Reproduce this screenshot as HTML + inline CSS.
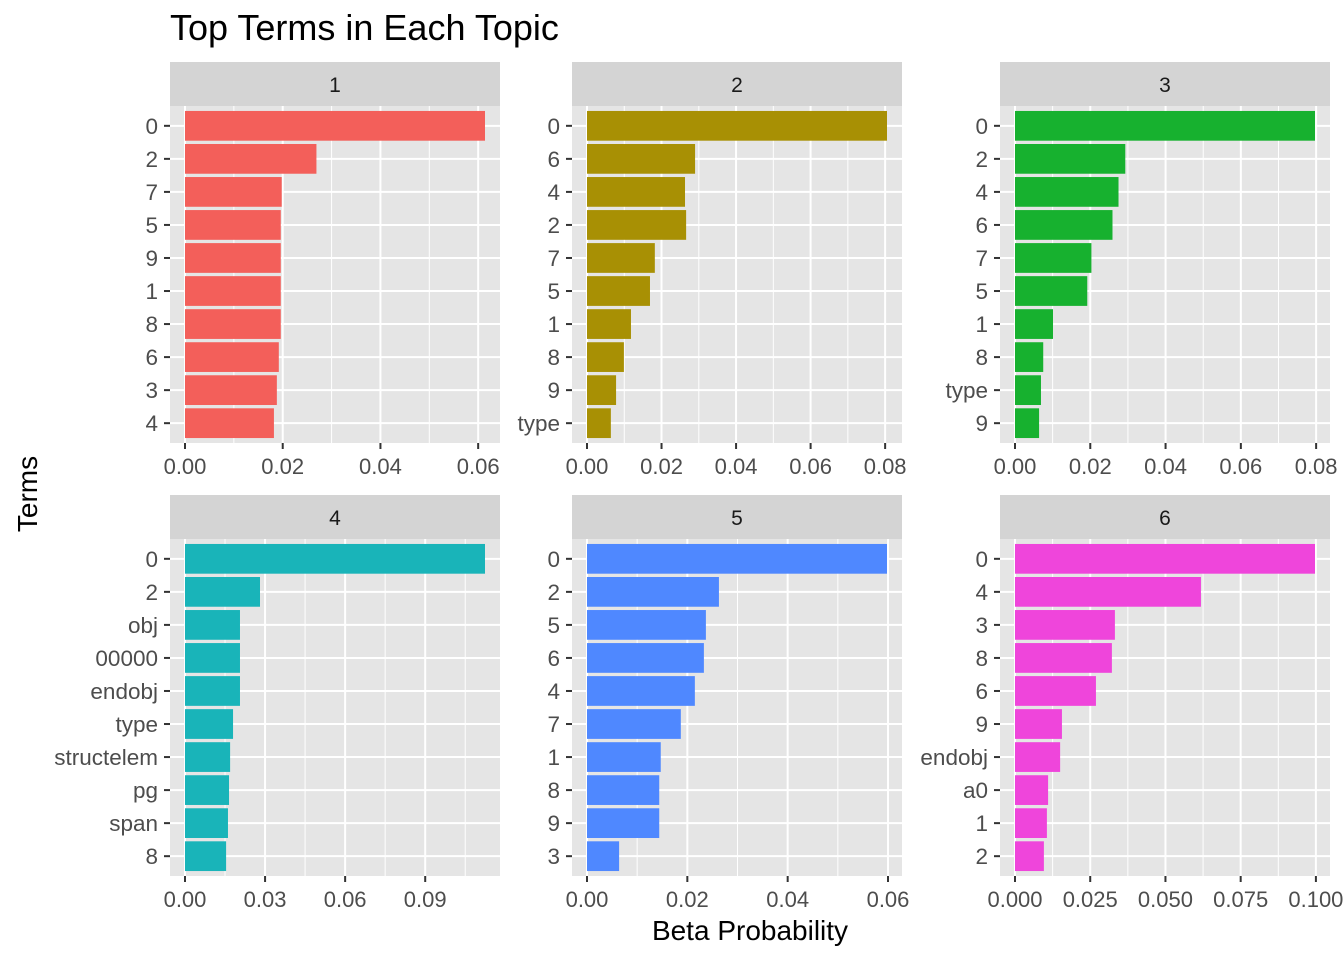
<!DOCTYPE html>
<html><head><meta charset="utf-8"><style>
body{margin:0;background:#fff;}
svg{display:block;font-family:"Liberation Sans",Arial,sans-serif;}
</style></head><body>
<svg id="chart" width="1344" height="960" viewBox="0 0 1344 960">
<rect width="1344" height="960" fill="#fff"/>
<text x="170" y="40" font-size="36" fill="#000">Top Terms in Each Topic</text>
<text transform="translate(37,494) rotate(-90)" text-anchor="middle" font-size="28" fill="#000">Terms</text>
<text x="750" y="940" text-anchor="middle" font-size="28" fill="#000">Beta Probability</text>
</svg>
<script>
const topics = ["1","2","3","4","5","6"];
const colors = ["#F35F5A","#A89004","#17B12F","#19B4B9","#4F88FF","#EF45DB"];
const terms1 = ["0","2","7","5","9","1","8","6","3","4"];
const beta1 = [0.0614,0.0269,0.0198,0.0196,0.0196,0.0196,0.0196,0.0192,0.0188,0.0182];
const terms2 = ["0","6","4","2","7","5","1","8","9","type"];
const beta2 = [0.0805,0.0290,0.0263,0.0266,0.0182,0.0169,0.0118,0.0099,0.0078,0.0064];
const terms3 = ["0","2","4","6","7","5","1","8","type","9"];
const beta3 = [0.0797,0.0293,0.0275,0.0259,0.0203,0.0192,0.0101,0.0075,0.0069,0.0064];
const terms4 = ["0","2","obj","00000","endobj","type","structelem","pg","span","8"];
const beta4 = [0.1124,0.0281,0.0206,0.0206,0.0206,0.0180,0.0169,0.0165,0.0161,0.0154];
const terms5 = ["0","2","5","6","4","7","1","8","9","3"];
const beta5 = [0.0598,0.0263,0.0237,0.0233,0.0215,0.0187,0.0147,0.0144,0.0144,0.0064];
const terms6 = ["0","4","3","8","6","9","endobj","a0","1","2"];
const beta6 = [0.0997,0.0618,0.0332,0.0322,0.0269,0.0156,0.0150,0.0110,0.0106,0.0096];
const ticks1 = [0,0.02,0.04,0.06], tlab1 = ["0.00","0.02","0.04","0.06"];
const ticks2 = [0,0.02,0.04,0.06,0.08], tlab2 = ["0.00","0.02","0.04","0.06","0.08"];
const ticks3 = [0,0.02,0.04,0.06,0.08], tlab3 = ["0.00","0.02","0.04","0.06","0.08"];
const ticks4 = [0,0.03,0.06,0.09], tlab4 = ["0.00","0.03","0.06","0.09"];
const ticks5 = [0,0.02,0.04,0.06], tlab5 = ["0.00","0.02","0.04","0.06"];
const ticks6 = [0,0.025,0.05,0.075,0.1], tlab6 = ["0.000","0.025","0.050","0.075","0.100"];

const T=[terms1,terms2,terms3,terms4,terms5,terms6];
const B=[beta1,beta2,beta3,beta4,beta5,beta6];
const K=[ticks1,ticks2,ticks3,ticks4,ticks5,ticks6];
const L=[tlab1,tlab2,tlab3,tlab4,tlab5,tlab6];
const NS="http://www.w3.org/2000/svg";
const svg=document.getElementById('chart');
function mk(tag,attrs,parent,txt){const e=document.createElementNS(NS,tag);for(const k in attrs)e.setAttribute(k,attrs[k]);if(txt!==undefined)e.textContent=txt;(parent||svg).appendChild(e);return e;}
const lefts=[170,572,1000];
const tops=[62,495];
for(let p=0;p<6;p++){
  const x0=lefts[p%3], st=tops[Math.floor(p/3)], pw=330, py=st+44, ph=337;
  const terms=T[p], vals=B[p], ticks=K[p];
  const mx=Math.max(...vals);
  const sx=v=>x0+pw*(v+0.05*mx)/(1.1*mx);
  const n=terms.length, step=ph/(n+0.2);
  const sy=i=>py+step*(0.6+i);
  const g=mk('g',{});
  
  
  const strip=mk('rect',{x:x0,y:st,width:pw,height:44,fill:'#D4D4D4'},g);
  
  
  const sl=mk('text',{x:x0+pw/2,y:st+30,'text-anchor':'middle','font-size':'21',fill:'#1A1A1A'},g,topics[p]);
  
  
  const bg=mk('rect',{x:x0,y:py,width:pw,height:ph,fill:'#E5E5E5'},g);
  
  
  for(let k=0;k<ticks.length;k++){
    const mids=[];
    if(k<ticks.length-1) mids.push((ticks[k]+ticks[k+1])/2);
    if(k==ticks.length-1){const d=ticks[1]-ticks[0];mids.push(ticks[k]+d/2);}
    mids.forEach(m=>{const X=sx(m);if(X<x0+pw){const gl=mk('line',{x1:X,x2:X,y1:py,y2:py+ph,stroke:'#fff','stroke-width':1},g);}});
  }
  ticks.forEach((t,k)=>{
    const X=sx(t);
    const gl=mk('line',{x1:X,x2:X,y1:py,y2:py+ph,stroke:'#fff','stroke-width':2},g);
    
    
    const tk=mk('line',{x1:X,x2:X,y1:py+ph,y2:py+ph+6,stroke:'#333','stroke-width':2},g);
    
    
    const tl=mk('text',{x:X,y:py+ph+31,'text-anchor':'middle','font-size':'22',fill:'#4D4D4D'},g,L[p][k]);
    
    
  });
  terms.forEach((t,i)=>{
    const Y=sy(i);
    const gl=mk('line',{x1:x0,x2:x0+pw,y1:Y,y2:Y,stroke:'#fff','stroke-width':2},g);
    
    
  });
  terms.forEach((t,i)=>{
    const Y=sy(i), h=step*0.9;
    const r=mk('rect',{x:sx(0),y:Y-h/2,width:sx(vals[i])-sx(0),height:h,fill:colors[p]},g);
    
    
    const tk=mk('line',{x1:x0-6,x2:x0,y1:Y,y2:Y,stroke:'#333','stroke-width':2},g);
    
    
    const tl=mk('text',{x:x0-12,y:Y+8,'text-anchor':'end','font-size':'22.5',fill:'#4D4D4D'},g,t);
    
    
  });
}
</script>
</body></html>
